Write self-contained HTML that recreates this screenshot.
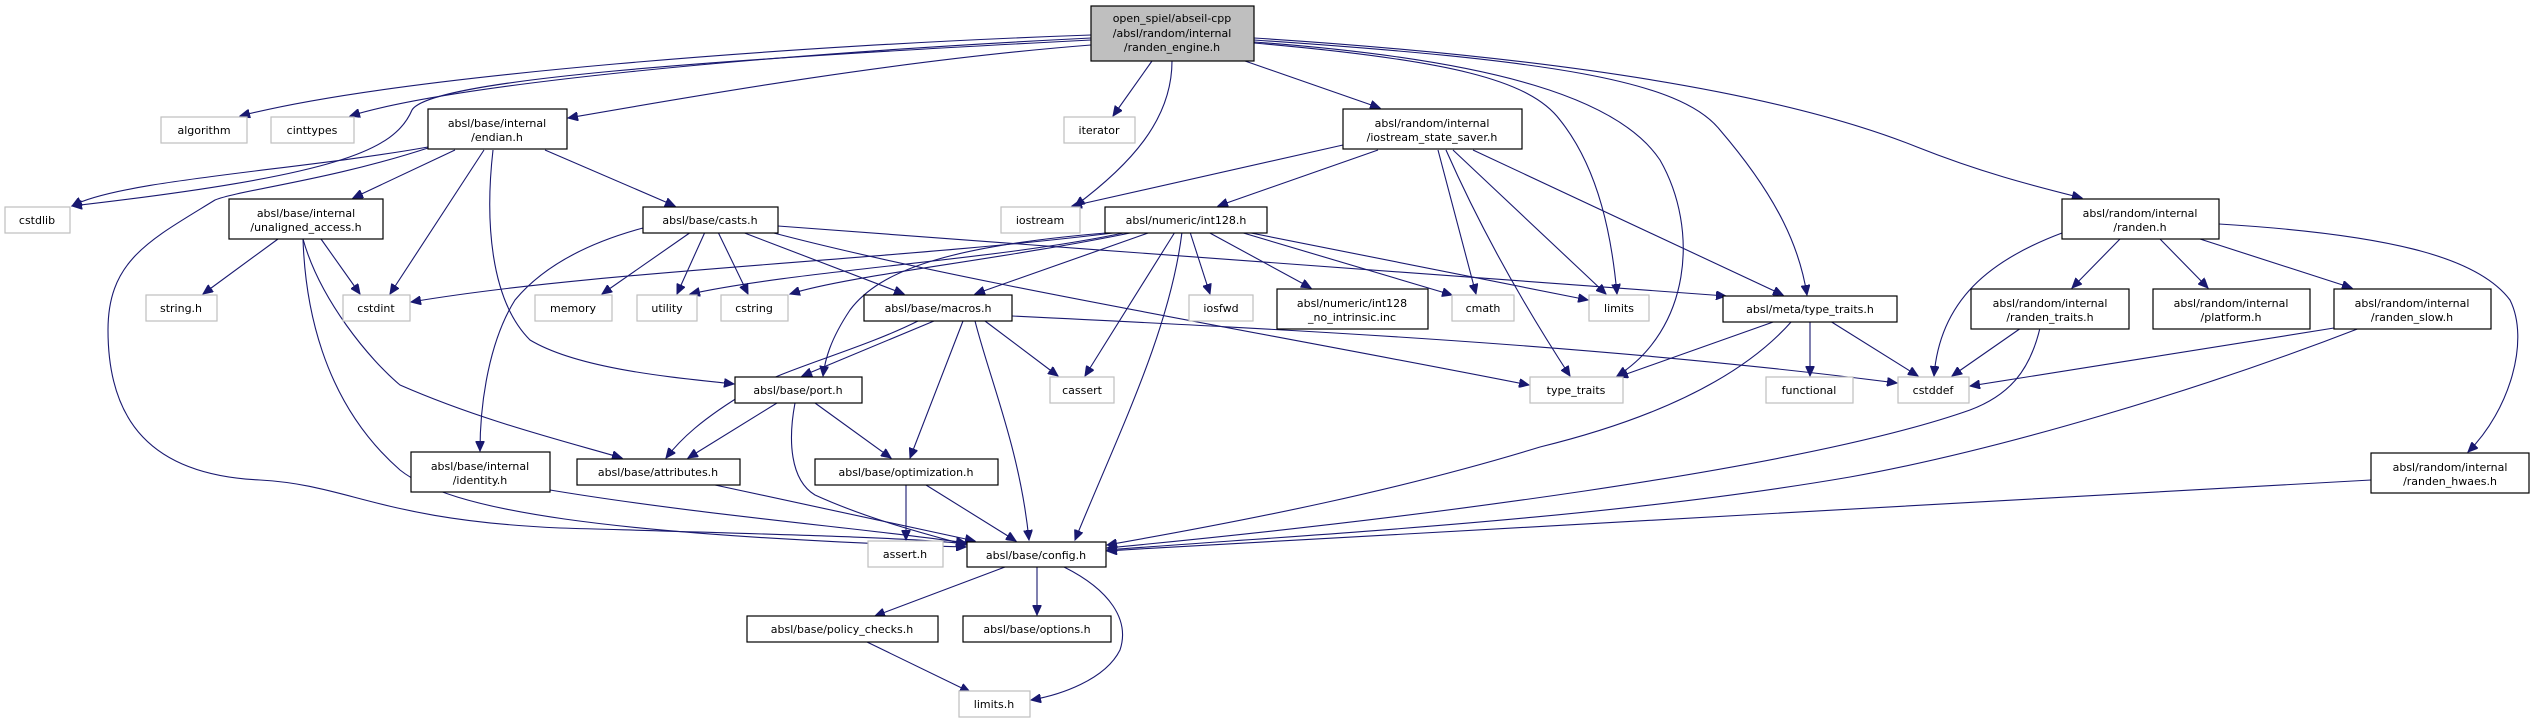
<!DOCTYPE html>
<html><head><meta charset="utf-8"><style>
html,body{margin:0;padding:0;background:#fff;}
svg{display:block;}
text{font-family:"DejaVu Sans","Liberation Sans",sans-serif;font-size:11px;fill:#000;text-anchor:middle;}
.b{fill:#fff;stroke:#000;stroke-width:1.2;}
.g{fill:#fff;stroke:#bfbfbf;stroke-width:1.2;}
.m{fill:#bfbfbf;stroke:#000;stroke-width:1.2;}
path{fill:none;stroke:#191970;stroke-width:1.1;marker-end:url(#a);}
</style></head><body>
<svg width="2534" height="723" viewBox="0 0 2534 723" xmlns="http://www.w3.org/2000/svg">
<defs><marker id="a" markerUnits="userSpaceOnUse" markerWidth="11" markerHeight="9" refX="10" refY="4.5" orient="auto"><polygon points="0,0 10,4.5 0,9" fill="#191970" stroke="#191970"/></marker></defs>

<!-- edges from main -->
<path d="M1091,35 C800,45 400,75 240,116"/>
<path d="M1091,38 C750,55 450,85 350,116"/>
<path d="M1091,40 C700,60 430,80 412,110 C395,150 340,175 72,206"/>
<path d="M1091,45 C900,60 700,95 568,118"/>
<path d="M1152,61 L1113,116"/>
<path d="M1172,61 C1172,120 1130,165 1075,206"/>
<path d="M1245,61 L1380,108"/>
<path d="M1254,43 C1450,60 1530,80 1560,120 C1600,170 1612,240 1617,294"/>
<path d="M1254,42 C1500,60 1620,100 1660,160 C1700,230 1690,330 1617,376"/>
<path d="M1254,40 C1550,60 1680,80 1720,130 C1780,200 1800,250 1807,295"/>
<path d="M1254,38 C1600,60 1800,100 1917,147 C1980,172 2030,185 2082,198"/>

<!-- endian -->
<path d="M428,147 C300,170 120,180 72,206"/>
<path d="M428,148 C330,180 240,190 215,200 C150,240 108,260 108,330 C108,420 150,475 260,480 C350,485 380,520 560,528 C800,535 920,538 966,544"/>
<path d="M455,150 L353,198"/>
<path d="M484,150 L390,294"/>
<path d="M493,150 C485,220 490,300 530,340 C580,370 680,378 734,384"/>
<path d="M545,150 L675,206"/>

<!-- unaligned -->
<path d="M278,239 L203,294"/>
<path d="M321,239 L360,294"/>
<path d="M303,239 C305,300 320,400 400,470 C450,510 600,535 966,547"/>
<path d="M303,239 C320,300 370,360 400,385 C480,420 560,440 622,458"/>

<!-- casts -->
<path d="M643,228 C580,245 540,270 515,300 C490,340 480,400 480,451"/>
<path d="M691,232 L602,294"/>
<path d="M705,232 L677,294"/>
<path d="M718,232 L748,294"/>
<path d="M742,232 L904,294"/>
<path d="M778,226 C1100,250 1500,280 1726,296"/>
<path d="M770,232 C950,280 1250,330 1529,385"/>

<!-- iostream_state_saver -->
<path d="M1343,145 L1072,206"/>
<path d="M1378,150 L1218,206"/>
<path d="M1438,150 L1476,294"/>
<path d="M1446,150 C1490,250 1540,330 1570,376"/>
<path d="M1453,150 L1606,294"/>
<path d="M1473,150 L1783,295"/>

<!-- int128 -->
<path d="M1121,232 C900,260 600,270 411,302"/>
<path d="M1128,232 C1000,260 800,270 690,294"/>
<path d="M1135,232 C1000,260 850,275 790,294"/>
<path d="M1151,232 L975,294"/>
<path d="M1118,232 C950,245 880,270 850,310 C830,340 825,360 823,376"/>
<path d="M1175,232 L1085,376"/>
<path d="M1182,232 C1170,330 1120,430 1075,540"/>
<path d="M1190,232 L1210,294"/>
<path d="M1208,232 L1311,288"/>
<path d="M1240,232 L1452,295"/>
<path d="M1246,232 L1588,300"/>

<!-- macros -->
<path d="M918,321 C860,350 780,370 750,390 C700,420 680,440 666,458"/>
<path d="M934,321 L802,376"/>
<path d="M963,321 L910,458"/>
<path d="M975,321 C990,380 1020,450 1029,540"/>
<path d="M985,321 L1058,376"/>
<path d="M1012,316 C1300,330 1600,345 1897,383"/>

<!-- port -->
<path d="M777,403 L688,458"/>
<path d="M815,403 L891,458"/>
<path d="M795,403 C788,440 790,480 815,495 C870,520 930,535 966,545"/>

<!-- level 4 -->
<path d="M715,485 L975,541"/>
<path d="M550,490 C700,515 880,530 966,543"/>
<path d="M906,485 L906,540"/>
<path d="M926,485 L1016,541"/>

<!-- meta type_traits -->
<path d="M1776,321 L1618,377"/>
<path d="M1810,321 L1810,376"/>
<path d="M1830,321 L1918,376"/>
<path d="M1792,321 C1740,380 1650,420 1540,447 C1400,490 1250,520 1107,545"/>

<!-- randen -->
<path d="M2062,233 C1990,260 1940,300 1934,376"/>
<path d="M2120,239 L2072,288"/>
<path d="M2160,239 L2208,288"/>
<path d="M2200,239 L2352,288"/>
<path d="M2219,224 C2400,235 2480,260 2510,300 C2530,340 2510,410 2468,452"/>
<path d="M2021,328 L1952,376"/>
<path d="M2040,328 C2030,370 2010,395 1970,410 C1800,470 1400,520 1107,548"/>
<path d="M2334,328 C2200,350 2100,365 1970,386"/>
<path d="M2360,328 C2200,390 2000,450 1850,477 C1600,520 1300,535 1107,550"/>
<path d="M2371,480 C2100,495 1600,520 1107,551"/>

<!-- config -->
<path d="M1005,567 L875,616"/>
<path d="M1037,567 L1037,615"/>
<path d="M1064,567 C1110,590 1130,620 1120,650 C1105,680 1060,695 1031,700"/>
<path d="M867,642 L970,692"/>

<!-- nodes -->
<rect class="m" x="1091" y="6" width="163" height="55"/>
<text x="1172" y="22">open_spiel/abseil-cpp</text><text x="1172" y="37">/absl/random/internal</text><text x="1172" y="51">/randen_engine.h</text>

<rect class="g" x="161" y="117" width="86" height="26"/><text x="204" y="134">algorithm</text>
<rect class="g" x="271" y="117" width="83" height="26"/><text x="312" y="134">cinttypes</text>
<rect class="b" x="428" y="109" width="139" height="40"/><text x="497" y="127">absl/base/internal</text><text x="497" y="141">/endian.h</text>
<rect class="g" x="1064" y="117" width="71" height="26"/><text x="1099" y="134">iterator</text>
<rect class="b" x="1343" y="109" width="179" height="40"/><text x="1432" y="127">absl/random/internal</text><text x="1432" y="141">/iostream_state_saver.h</text>
<rect class="b" x="2062" y="199" width="157" height="40"/><text x="2140" y="217">absl/random/internal</text><text x="2140" y="231">/randen.h</text>

<rect class="g" x="5" y="207" width="65" height="26"/><text x="37" y="224">cstdlib</text>
<rect class="b" x="229" y="199" width="154" height="40"/><text x="306" y="217">absl/base/internal</text><text x="306" y="231">/unaligned_access.h</text>
<rect class="b" x="643" y="207" width="135" height="26"/><text x="710" y="224">absl/base/casts.h</text>
<rect class="g" x="1001" y="207" width="79" height="26"/><text x="1040" y="224">iostream</text>
<rect class="b" x="1105" y="207" width="162" height="26"/><text x="1186" y="224">absl/numeric/int128.h</text>

<rect class="g" x="146" y="295" width="71" height="26"/><text x="181" y="312">string.h</text>
<rect class="g" x="343" y="295" width="67" height="26"/><text x="376" y="312">cstdint</text>
<rect class="g" x="535" y="295" width="77" height="26"/><text x="573" y="312">memory</text>
<rect class="g" x="637" y="295" width="60" height="26"/><text x="667" y="312">utility</text>
<rect class="g" x="721" y="295" width="67" height="26"/><text x="754" y="312">cstring</text>
<rect class="b" x="864" y="295" width="148" height="26"/><text x="938" y="312">absl/base/macros.h</text>
<rect class="g" x="1189" y="295" width="64" height="26"/><text x="1221" y="312">iosfwd</text>
<rect class="b" x="1277" y="289" width="151" height="40"/><text x="1352" y="307">absl/numeric/int128</text><text x="1352" y="321">_no_intrinsic.inc</text>
<rect class="g" x="1452" y="295" width="62" height="26"/><text x="1483" y="312">cmath</text>
<rect class="g" x="1589" y="295" width="60" height="26"/><text x="1619" y="312">limits</text>
<rect class="b" x="1723" y="296" width="174" height="26"/><text x="1810" y="313">absl/meta/type_traits.h</text>
<rect class="b" x="1971" y="289" width="158" height="40"/><text x="2050" y="307">absl/random/internal</text><text x="2050" y="321">/randen_traits.h</text>
<rect class="b" x="2153" y="289" width="157" height="40"/><text x="2231" y="307">absl/random/internal</text><text x="2231" y="321">/platform.h</text>
<rect class="b" x="2334" y="289" width="157" height="40"/><text x="2412" y="307">absl/random/internal</text><text x="2412" y="321">/randen_slow.h</text>

<rect class="b" x="735" y="377" width="127" height="26"/><text x="798" y="394">absl/base/port.h</text>
<rect class="g" x="1050" y="377" width="64" height="26"/><text x="1082" y="394">cassert</text>
<rect class="g" x="1530" y="377" width="93" height="26"/><text x="1576" y="394">type_traits</text>
<rect class="g" x="1766" y="377" width="87" height="26"/><text x="1809" y="394">functional</text>
<rect class="g" x="1898" y="377" width="71" height="26"/><text x="1933" y="394">cstddef</text>

<rect class="b" x="411" y="452" width="139" height="40"/><text x="480" y="470">absl/base/internal</text><text x="480" y="484">/identity.h</text>
<rect class="b" x="577" y="459" width="163" height="26"/><text x="658" y="476">absl/base/attributes.h</text>
<rect class="b" x="815" y="459" width="183" height="26"/><text x="906" y="476">absl/base/optimization.h</text>
<rect class="b" x="2371" y="453" width="158" height="40"/><text x="2450" y="471">absl/random/internal</text><text x="2450" y="485">/randen_hwaes.h</text>

<rect class="g" x="868" y="541" width="75" height="26"/><text x="905" y="558">assert.h</text>
<rect class="b" x="967" y="542" width="139" height="25"/><text x="1036" y="559">absl/base/config.h</text>
<rect class="b" x="747" y="616" width="191" height="26"/><text x="842" y="633">absl/base/policy_checks.h</text>
<rect class="b" x="963" y="616" width="148" height="26"/><text x="1037" y="633">absl/base/options.h</text>
<rect class="g" x="959" y="691" width="71" height="26"/><text x="994" y="708">limits.h</text>
</svg>
</body></html>
